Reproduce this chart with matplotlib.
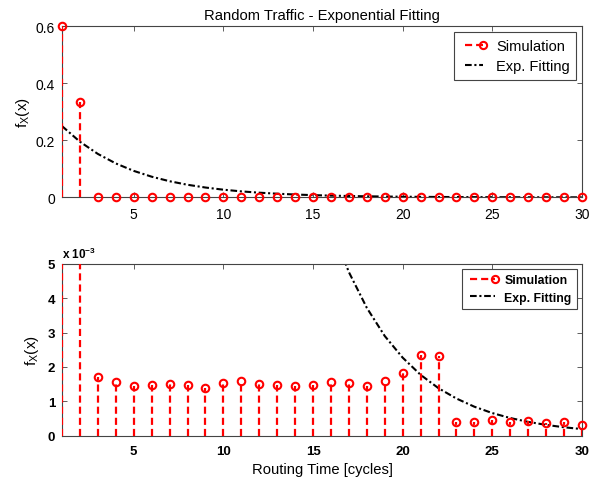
import numpy as np
import matplotlib
matplotlib.use("Agg")
import matplotlib.pyplot as plt
from matplotlib.lines import Line2D
from matplotlib.legend_handler import HandlerLine2D

plt.rcParams["font.family"] = ["Liberation Sans", "DejaVu Sans"]
plt.rcParams["mathtext.fontset"] = "custom"
plt.rcParams["mathtext.rm"] = "Liberation Sans"
plt.rcParams["mathtext.bf"] = "Liberation Sans:bold"

# routing time in cycles
cycles = np.arange(1, 31)

# simulated pdf of the routing time
sim = [0.602, 0.333, 0.00171, 0.00156, 0.00145, 0.00147, 0.00149, 0.00147,
       0.00140, 0.00152, 0.00160, 0.00150, 0.00148, 0.00145, 0.00148, 0.00155,
       0.00152, 0.00145, 0.00159, 0.00182, 0.00236, 0.00233, 0.00041, 0.00041,
       0.00045, 0.00041, 0.00043, 0.00037, 0.00039, 0.00032]

# exponential fitting, read at every cycle
fit = [0.25, 0.1952, 0.1524, 0.1190, 0.0929, 0.0725, 0.0566, 0.0442, 0.0345,
       0.0269, 0.0210, 0.0164, 0.0128, 0.0100, 0.00781, 0.00610, 0.00476,
       0.00372, 0.00290, 0.00227, 0.00177, 0.00138, 0.00108, 0.000842,
       0.000657, 0.000513, 0.000401, 0.000313, 0.000244, 0.000191]

xticks = [5, 10, 15, 20, 25, 30]

sim = np.array(sim)
fit = np.array(fit)

red = "#ff0000"
edge = "#444444"
stem_kw = dict(colors=red, linestyles=(0, (3.2, 1.8)), linewidth=1.6, zorder=3)
mark_kw = dict(linestyle="none", marker="o", markersize=5.4, markeredgewidth=1.5,
               markeredgecolor=red, markerfacecolor="none")
fit_kw = dict(color="k", linestyle=(0, (3.2, 1.3, 1.0, 1.3)), linewidth=1.5)


class MarkerAtEnd(HandlerLine2D):
    # matlab style: the marker sits at the right end of the legend line
    def create_artists(self, legend, orig_handle, xdescent, ydescent, width,
                       height, fontsize, trans):
        arts = super().create_artists(legend, orig_handle, xdescent, ydescent,
                                      width, height, fontsize, trans)
        for a in arts:
            if a.get_marker() not in (None, "None", "none", ""):
                a.set_markevery([len(a.get_xdata()) - 1])
        return arts


fig = plt.figure(figsize=(6.0, 4.81), dpi=100)
ax1 = fig.add_axes([0.1033, 0.5876, 0.8667, 0.3557])
ax2 = fig.add_axes([0.1033, 0.0922, 0.8667, 0.3571])


def legend_handles():
    h_sim = Line2D([], [], color=red, linestyle=(0, (3.2, 1.8)), linewidth=1.6,
                   marker="o", markersize=5.2, markeredgewidth=1.5,
                   markerfacecolor="none")
    h_fit = Line2D([], [], **fit_kw)
    return [h_sim, h_fit]


for ax, ymax in [(ax1, 0.6), (ax2, 0.005)]:
    ax.vlines(cycles, 0, sim, **stem_kw)
    inside = sim <= ymax * 1.01
    ax.plot(cycles[inside], sim[inside], clip_on=False, zorder=5, **mark_kw)
    ax.plot(cycles, fit, **fit_kw)
    ax.set_xlim(1, 30)
    ax.set_ylim(0, ymax)
    ax.set_xticks(xticks)
    ax.tick_params(direction="in", length=3.5, width=0.6, top=True, right=True,
                   labelsize=10, pad=7, color=edge)
    ax.tick_params(axis="y", pad=5)
    for sp in ax.spines.values():
        sp.set_linewidth(0.8)
        sp.set_color(edge)
    ax.set_ylabel(r"f$_\mathregular{X}$(x)", fontsize=11)

# top panel
ax1.set_yticks([0, 0.2, 0.4, 0.6])
ax1.set_yticklabels(["0", "0.2", "0.4", "0.6"])
ax1.yaxis.set_label_coords(-0.057, 0.5)
ax1.set_title("Random Traffic - Exponential Fitting", fontsize=10.6, pad=5)
leg1 = ax1.legend(legend_handles(), ["Simulation", "Exp. Fitting"], loc="upper right",
                  numpoints=2, handlelength=1.8, fontsize=10.5, fancybox=False,
                  framealpha=1, edgecolor=edge, borderaxespad=0.4,
                  handletextpad=0.6, labelspacing=0.45, borderpad=0.45,
                  handler_map={Line2D: MarkerAtEnd()})
leg1.get_frame().set_linewidth(0.8)

# bottom panel, scaled by 1e-3
ax2.set_yticks([0, 0.001, 0.002, 0.003, 0.004, 0.005])
ax2.set_yticklabels(["0", "1", "2", "3", "4", "5"])
ax2.tick_params(labelsize=9.5)
for lab in ax2.get_xticklabels() + ax2.get_yticklabels():
    lab.set_fontweight("bold")
ax2.yaxis.set_label_coords(-0.041, 0.5)
ax2.text(0.0, 1.018, r"x 10$^{\mathbf{-3}}$", transform=ax2.transAxes,
         fontsize=8.5, fontweight="bold", ha="left", va="bottom")
ax2.set_xlabel("Routing Time [cycles]", fontsize=10.6, labelpad=3)
leg2 = ax2.legend(legend_handles(), ["Simulation", "Exp. Fitting"], loc="upper right",
                  numpoints=2, handlelength=2.6, prop={"size": 8.8, "weight": "bold"},
                  fancybox=False, framealpha=1, edgecolor=edge, borderaxespad=0.45,
                  handletextpad=0.5, labelspacing=0.45, borderpad=0.4,
                  handler_map={Line2D: MarkerAtEnd()})
leg2.get_frame().set_linewidth(0.8)

fig.savefig("out.png", dpi=100)
